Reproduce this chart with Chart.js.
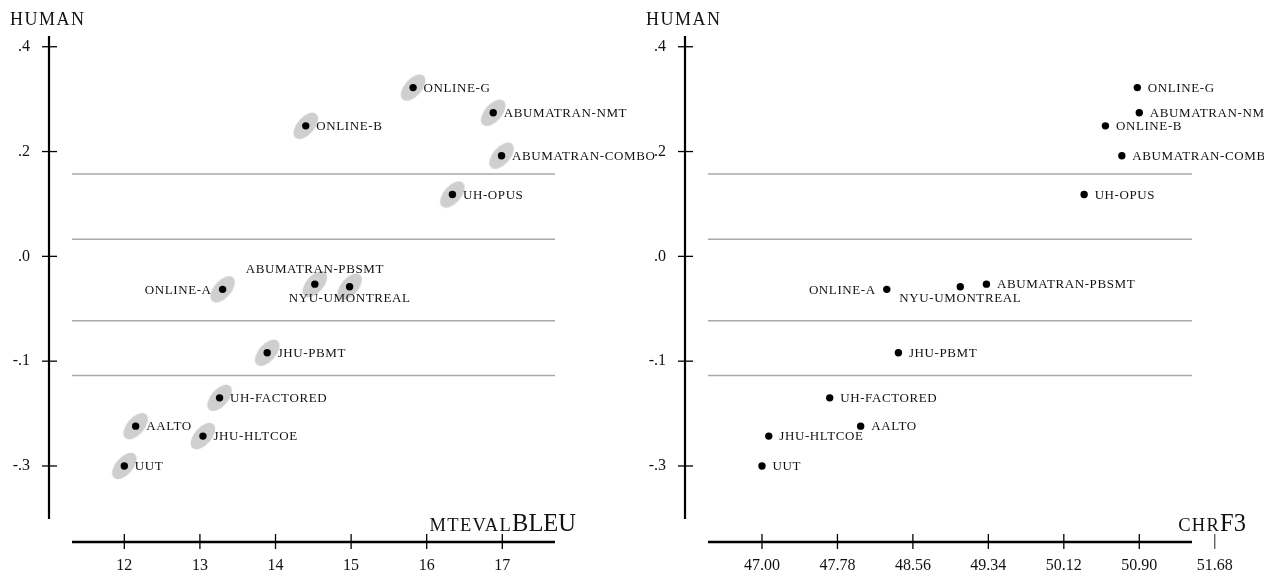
<!DOCTYPE html>
<html>
<head>
<meta charset="utf-8">
<script src="https://cdn.jsdelivr.net/npm/chart.js@4.4.1/dist/chart.umd.min.js"></script>
<style>
  html, body { margin: 0; padding: 0; background: #fff; }
  #wrap { position: relative; width: 1264px; height: 579px; }
  #wrap canvas { position: absolute; left: 0; top: 0; }
</style>
</head>
<body>
<div id="wrap">
  <canvas id="bleuChart" width="1264" height="579"></canvas>
  <canvas id="chrfChart" width="1264" height="579"></canvas>
</div>
<script>
// systems, in the same order for every array below
const systems = ['ONLINE-G', 'ABUMATRAN-NMT', 'ONLINE-B', 'ABUMATRAN-COMBO', 'UH-OPUS',
  'ONLINE-A', 'ABUMATRAN-PBSMT', 'NYU-UMONTREAL', 'JHU-PBMT', 'UH-FACTORED',
  'AALTO', 'JHU-HLTCOE', 'UUT'];
// vertical position on the human axis (same units as humanTicks)
const human = [0.322, 0.274, 0.249, 0.192, 0.118, -0.063, -0.053, -0.058, -0.184, -0.270, -0.324, -0.343, -0.400];
const bleu = [15.82, 16.88, 14.40, 16.99, 16.34, 13.30, 14.52, 14.98, 13.89, 13.26, 12.15, 13.04, 12.00];
const chrf3 = [50.88, 50.90, 50.55, 50.72, 50.33, 48.29, 49.32, 49.05, 48.41, 47.70, 48.02, 47.07, 47.00];

const humanTicks = [0.4, 0.2, 0.0, -0.2, -0.4];
const humanTickLabels = ['.4', '.2', '.0', '-.1', '-.3'];
const clusterBounds = [0.157, 0.0325, -0.1228, -0.2274];
const bleuTicks = [12, 13, 14, 15, 16, 17];
const chrfTicks = [47.00, 47.78, 48.56, 49.34, 50.12, 50.90, 51.68];

// where each label sits relative to its dot: r = right, l = left, t = above, b = below
const bleuLabelSide = ['r', 'r', 'r', 'r', 'r', 'l', 't', 'b', 'r', 'r', 'r', 'r', 'r'];
const chrfLabelSide = ['r', 'r', 'r', 'r', 'r', 'l', 'r', 'b', 'r', 'r', 'r', 'r', 'r'];

const SERIF = '"Liberation Serif", "Times New Roman", serif';

// gray tilted ellipse used as the point style behind the BLEU dots
function makeEllipse() {
  const c = document.createElement('canvas');
  c.width = 40; c.height = 40;
  const g = c.getContext('2d');
  g.fillStyle = '#cfcfcf';
  g.beginPath();
  g.ellipse(20, 20, 15.8, 8.6, -Math.PI * 0.27, 0, Math.PI * 2);
  g.fill();
  return c;
}

function line(ctx, x1, y1, x2, y2) {
  ctx.beginPath(); ctx.moveTo(x1, y1); ctx.lineTo(x2, y2); ctx.stroke();
}

function axesPlugin(cfg) {
  return {
    id: 'paperAxes',
    beforeDatasetsDraw(chart) {
      const { ctx, chartArea: a, scales: { x, y } } = chart;
      ctx.save();
      // cluster separators
      ctx.strokeStyle = '#a8a8a8';
      ctx.lineWidth = 1.5;
      clusterBounds.forEach(v => {
        const py = y.getPixelForValue(v);
        line(ctx, a.left, py, a.right, py);
      });

      // y axis
      const ax = a.left - 23;
      ctx.strokeStyle = '#000';
      ctx.lineWidth = 2.2;
      line(ctx, ax, a.top, ax, a.bottom);
      ctx.lineWidth = 1.3;
      ctx.fillStyle = '#111';
      ctx.font = '16px ' + SERIF;
      ctx.textAlign = 'right';
      ctx.textBaseline = 'middle';
      humanTicks.forEach((v, i) => {
        const py = y.getPixelForValue(v);
        line(ctx, ax - 7, py, ax + 8, py);
        ctx.fillText(humanTickLabels[i], ax - 19, py);
      });
      ctx.textAlign = 'left';
      ctx.textBaseline = 'alphabetic';
      ctx.font = '18px ' + SERIF;
      ctx.letterSpacing = '1.5px';
      ctx.fillText('HUMAN', ax - 39, 25);
      ctx.letterSpacing = '0px';

      // x axis
      const ay = a.bottom + 23;
      ctx.lineWidth = 2.6;
      line(ctx, a.left, ay, a.right, ay);
      ctx.lineWidth = 1.3;
      ctx.font = '16px ' + SERIF;
      ctx.textAlign = 'center';
      ctx.textBaseline = 'middle';
      cfg.xTicks.forEach(v => {
        const px = x.getPixelForValue(v);
        ctx.strokeStyle = px > a.right ? '#555' : '#000';
        line(ctx, px, ay - 8, px, ay + 7);
        ctx.fillText(cfg.xFormat(v), px, ay + 24);
      });

      // x title: small caps prefix + large name
      ctx.textBaseline = 'alphabetic';
      ctx.textAlign = 'left';
      ctx.font = '24.5px ' + SERIF;
      const wBig = ctx.measureText(cfg.titleBig).width;
      ctx.font = '18.5px ' + SERIF;
      ctx.letterSpacing = '1.3px';
      const wSmall = ctx.measureText(cfg.titleSmall).width;
      const tx = cfg.titleEnd - wBig - wSmall;
      ctx.fillText(cfg.titleSmall, tx, 531);
      ctx.letterSpacing = '0px';
      ctx.font = '24.5px ' + SERIF;
      ctx.fillText(cfg.titleBig, tx + wSmall, 531);
      ctx.restore();
    },
    afterDatasetsDraw(chart) {
      const { ctx } = chart;
      const meta = chart.getDatasetMeta(0);
      ctx.save();
      ctx.font = '13px ' + SERIF;
      ctx.letterSpacing = '0.6px';
      ctx.fillStyle = '#111';
      ctx.textBaseline = 'alphabetic';
      meta.data.forEach((pt, i) => {
        const side = cfg.sides[i];
        const name = systems[i];
        if (side === 'r') { ctx.textAlign = 'left'; ctx.fillText(name, pt.x + 10.5, pt.y + 4.3); }
        else if (side === 'l') { ctx.textAlign = 'right'; ctx.fillText(name, pt.x - 11, pt.y + 4.3); }
        else if (side === 't') { ctx.textAlign = 'center'; ctx.fillText(name, pt.x, pt.y - 11); }
        else { ctx.textAlign = 'center'; ctx.fillText(name, pt.x, pt.y + 15); }
      });
      ctx.restore();
    }
  };
}

function makeChart(id, xs, cfg) {
  const points = xs.map((v, i) => ({ x: v, y: human[i] }));
  const datasets = [{
    data: points,
    pointRadius: 3.7,
    pointBackgroundColor: '#000',
    pointBorderWidth: 0,
    showLine: false
  }];
  if (cfg.ellipses) {
    datasets.push({
      data: points,
      pointStyle: makeEllipse(),
      showLine: false
    });
  }
  return new Chart(document.getElementById(id), {
    type: 'scatter',
    data: { datasets },
    options: {
      responsive: false,
      animation: false,
      events: [],
      clip: false,
      layout: { padding: cfg.padding },
      plugins: { legend: { display: false }, tooltip: { enabled: false } },
      scales: {
        x: { type: 'linear', display: false, min: cfg.xMin, max: cfg.xMax },
        y: { type: 'linear', display: false, min: -0.5012, max: 0.4205 }
      }
    },
    plugins: [axesPlugin(cfg)]
  });
}

makeChart('bleuChart', bleu, {
  xMin: 11.308, xMax: 17.697,
  padding: { left: 72, right: 709, top: 36, bottom: 60 },
  xTicks: bleuTicks, xFormat: v => String(v),
  titleSmall: 'MTEVAL', titleBig: 'BLEU', titleEnd: 576,
  sides: bleuLabelSide, ellipses: true
});

makeChart('chrfChart', chrf3, {
  xMin: 46.442, xMax: 51.445,
  padding: { left: 708, right: 72, top: 36, bottom: 60 },
  xTicks: chrfTicks, xFormat: v => v.toFixed(2),
  titleSmall: 'CHR', titleBig: 'F3', titleEnd: 1246,
  sides: chrfLabelSide, ellipses: false
});
</script>
</body>
</html>
